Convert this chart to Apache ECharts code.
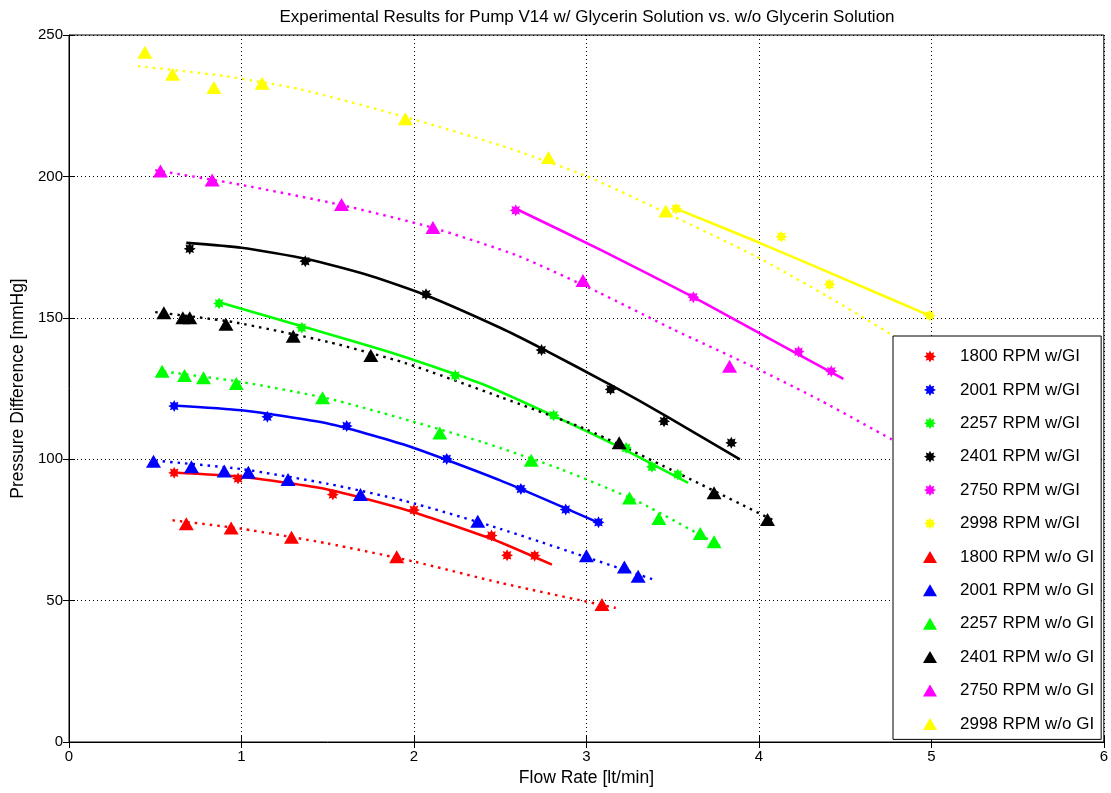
<!DOCTYPE html>
<html>
<head>
<meta charset="utf-8">
<title>Pump V14 pressure–flow curves</title>
<script src="https://cdn.jsdelivr.net/npm/echarts@6/dist/echarts.min.js"></script>
<style>
  html, body { margin: 0; padding: 0; background: #fff; }
  #chart { width: 1111px; height: 793px; }
</style>
</head>
<body>
<div id="chart"></div>
<script>
// Measured points: [flow rate (lt/min), pressure difference (mmHg)]
// "GI" = with glycerin solution, "WO" = without glycerin solution
const speeds = ['1800', '2001', '2257', '2401', '2750', '2998'];
const colors = ['#ff0000', '#0000ff', '#00ff00', '#000000', '#ff00ff', '#ffff00'];

const gi1800 = [[0.61, 95.2], [0.98, 93.2], [1.53, 87.5], [2.00, 82.0], [2.45, 73.0], [2.54, 66.0], [2.70, 65.9]];
const gi2001 = [[0.61, 118.8], [1.15, 115.0], [1.61, 111.7], [2.19, 100.1], [2.62, 89.5], [2.88, 82.2], [3.07, 77.7]];
const gi2257 = [[0.87, 155.1], [1.35, 146.5], [2.24, 129.6], [2.81, 115.5], [3.23, 104.0], [3.38, 97.3], [3.53, 94.6]];
const gi2401 = [[0.70, 174.4], [1.37, 170.0], [2.07, 158.3], [2.74, 138.6], [3.14, 124.7], [3.45, 113.4], [3.84, 105.8]];
const gi2750 = [[2.59, 188.0], [3.62, 157.3], [4.23, 138.0], [4.42, 131.1]];
const gi2998 = [[3.52, 188.6], [4.13, 178.7], [4.41, 161.8], [4.99, 150.8]];

const wo1800 = [[0.68, 77.2], [0.94, 75.7], [1.29, 72.4], [1.90, 65.5], [3.09, 48.6]];
const wo2001 = [[0.49, 99.3], [0.71, 97.3], [0.90, 95.8], [1.04, 95.4], [1.27, 92.8], [1.69, 87.5], [2.37, 78.1], [3.00, 65.9], [3.22, 61.9], [3.30, 58.6]];
const wo2257 = [[0.54, 131.1], [0.67, 129.6], [0.78, 128.8], [0.97, 126.8], [1.47, 121.7], [2.15, 109.3], [2.68, 99.6], [3.25, 86.3], [3.42, 79.0], [3.66, 73.7], [3.74, 70.8]];
const wo2401 = [[0.55, 151.8], [0.66, 150.0], [0.70, 150.0], [0.91, 147.7], [1.30, 143.5], [1.75, 136.7], [3.19, 105.8], [3.74, 88.1], [4.05, 78.7]];
const wo2750 = [[0.53, 201.9], [0.83, 198.7], [1.58, 190.1], [2.11, 181.9], [2.98, 163.2], [3.83, 132.9]];
const wo2998 = [[0.44, 243.9], [0.60, 236.1], [0.84, 231.4], [1.12, 232.9], [1.95, 220.4], [2.78, 206.7], [3.46, 187.8]];

// Fitted trend curves (solid: with glycerin, dotted: without)
const fitGI1800 = [[0.60, 95.3], [1.00, 93.8], [1.50, 89.3], [1.97, 81.8], [2.46, 71.6], [2.80, 62.7]];
const fitGI2001 = [[0.60, 119.0], [1.00, 117.3], [1.50, 112.6], [1.95, 105.0], [2.50, 92.5], [3.09, 77.0]];
const fitGI2257 = [[0.87, 155.5], [1.35, 147.0], [1.92, 136.7], [2.40, 126.5], [2.81, 115.3], [3.20, 104.0], [3.59, 91.6]];
const fitGI2401 = [[0.68, 176.5], [1.00, 174.8], [1.38, 170.8], [1.75, 164.8], [2.07, 158.0], [2.50, 146.5], [2.74, 139.2], [3.14, 126.3], [3.45, 115.7], [3.89, 99.9]];
const fitGI2750 = [[2.60, 188.3], [3.10, 173.5], [3.62, 157.3], [4.05, 143.0], [4.49, 128.4]];
const fitGI2998 = [[3.52, 188.6], [4.00, 176.6], [4.50, 163.6], [5.00, 150.5]];

const fitWO1800 = [[0.60, 78.4], [1.00, 75.4], [1.50, 70.2], [2.00, 63.8], [2.50, 56.3], [3.17, 47.4]];
const fitWO2001 = [[0.50, 99.5], [1.00, 96.5], [1.50, 91.3], [1.95, 85.2], [2.50, 75.4], [3.39, 57.4]];
const fitWO2257 = [[0.55, 131.0], [1.00, 127.3], [1.50, 121.5], [1.92, 114.6], [2.40, 106.0], [2.85, 96.5], [3.30, 85.0], [3.77, 69.5]];
const fitWO2401 = [[0.50, 152.0], [0.95, 148.5], [1.50, 141.5], [1.95, 134.0], [2.50, 122.0], [3.00, 110.5], [3.50, 96.0], [4.08, 78.5]];
const fitWO2750 = [[0.50, 202.2], [1.00, 197.0], [1.57, 190.0], [2.10, 182.0], [2.60, 172.0], [3.07, 159.0], [3.50, 146.0], [3.98, 132.3], [4.35, 121.0], [4.77, 107.0], [4.90, 102.5]];
const fitWO2998 = [[0.40, 239.0], [0.90, 235.5], [1.34, 230.8], [1.95, 221.0], [2.50, 211.0], [3.00, 200.1], [3.50, 186.0], [3.98, 171.8], [4.40, 157.5], [4.77, 144.0], [4.95, 137.0]];

const giPoints = [gi1800, gi2001, gi2257, gi2401, gi2750, gi2998];
const woPoints = [wo1800, wo2001, wo2257, wo2401, wo2750, wo2998];
const giFits = [fitGI1800, fitGI2001, fitGI2257, fitGI2401, fitGI2750, fitGI2998];
const woFits = [fitWO1800, fitWO2001, fitWO2257, fitWO2401, fitWO2750, fitWO2998];

const xMin = 0, xMax = 6, xStep = 1;
const yMin = 0, yMax = 250, yStep = 50;

// chunky eight-pointed star for the "with glycerin" markers
const starPath = 'path://M20 10 L15.54 12.30 L17.07 17.07 L12.30 15.54 L10 20 L7.70 15.54 L2.93 17.07 L4.46 12.30 L0 10 L4.46 7.70 L2.93 2.93 L7.70 4.46 L10 0 L12.30 4.46 L17.07 2.93 L15.54 7.70 Z';

const FONT = 'Liberation Sans, Arial, sans-serif';

const series = [];
const legendData = [];

speeds.forEach((s, i) => {
  series.push({
    name: 'fit ' + s + ' GI',
    type: 'line',
    data: giFits[i],
    smooth: 0.2,
    showSymbol: false,
    symbol: 'none',
    silent: true,
    lineStyle: { color: colors[i], width: 2.6, type: 'solid' },
    z: 3
  });
  series.push({
    name: 'fit ' + s + ' WO',
    type: 'line',
    data: woFits[i],
    smooth: 0.2,
    showSymbol: false,
    symbol: 'none',
    silent: true,
    lineStyle: { color: colors[i], width: 2.4, type: [2.5, 5] },
    z: 3
  });
});

speeds.forEach((s, i) => {
  const name = s + ' RPM w/GI';
  legendData.push({ name: name, icon: starPath, itemStyle: { color: colors[i] } });
  series.push({
    name: name,
    type: 'scatter',
    data: giPoints[i],
    symbol: starPath,
    symbolSize: 12,
    itemStyle: { color: colors[i], opacity: 1 },
    z: 4
  });
});

speeds.forEach((s, i) => {
  const name = s + ' RPM w/o GI';
  legendData.push({ name: name, icon: 'triangle', itemStyle: { color: colors[i] } });
  series.push({
    name: name,
    type: 'scatter',
    data: woPoints[i],
    symbol: 'triangle',
    symbolSize: [15, 13],
    itemStyle: { color: colors[i], opacity: 1 },
    z: 4
  });
});

const tickStyle = { show: true, inside: true, length: 6, lineStyle: { color: '#000', width: 1 } };

const option = {
  backgroundColor: '#ffffff',
  animation: false,
  title: {
    text: 'Experimental Results for Pump V14 w/ Glycerin Solution vs. w/o Glycerin Solution',
    left: 587,
    top: 9,
    padding: 0,
    textAlign: 'center',
    textStyle: { fontFamily: FONT, fontSize: 17, fontWeight: 'normal', color: '#000' }
  },
  grid: {
    left: 69, right: 6, top: 35, bottom: 51,
    show: true, borderColor: '#000', borderWidth: 1, backgroundColor: '#fff',
    containLabel: false
  },
  legend: {
    orient: 'vertical',
    left: 893,
    top: 336,
    padding: [12, 7, 7, 30],
    itemGap: 16.4,
    itemWidth: 14,
    itemHeight: 12,
    itemStyle: { borderWidth: 0 },
    backgroundColor: '#fff',
    borderColor: '#000',
    borderWidth: 1,
    data: legendData,
    textStyle: { fontFamily: FONT, fontSize: 17, color: '#000', padding: [0, 0, 0, 18] },
    selectedMode: false,
    z: 10
  },
  xAxis: [{
    type: 'value',
    min: xMin, max: xMax, interval: xStep,
    name: 'Flow Rate [lt/min]',
    nameLocation: 'middle',
    nameGap: 23,
    nameTextStyle: { fontFamily: FONT, fontSize: 17.5, color: '#000' },
    axisLine: { show: true, onZero: false, lineStyle: { color: '#000', width: 1 } },
    axisTick: tickStyle,
    axisLabel: { fontFamily: FONT, fontSize: 15, color: '#000', margin: 7 },
    splitLine: { show: true, lineStyle: { color: '#000', width: 1, type: [1, 3] } }
  }, {
    type: 'value',
    position: 'top',
    min: xMin, max: xMax, interval: xStep,
    axisLine: { show: false },
    axisTick: tickStyle,
    axisLabel: { show: false },
    splitLine: { show: false }
  }],
  yAxis: [{
    type: 'value',
    min: yMin, max: yMax, interval: yStep,
    name: 'Pressure Difference [mmHg]',
    nameLocation: 'middle',
    nameGap: 34,
    nameTextStyle: { fontFamily: FONT, fontSize: 17.5, color: '#000' },
    axisLine: { show: true, onZero: false, lineStyle: { color: '#000', width: 1 } },
    axisTick: tickStyle,
    axisLabel: { fontFamily: FONT, fontSize: 15, color: '#000', margin: 6 },
    splitLine: { show: true, lineStyle: { color: '#000', width: 1, type: [1, 3] } }
  }, {
    type: 'value',
    position: 'right',
    min: yMin, max: yMax, interval: yStep,
    axisLine: { show: false },
    axisTick: tickStyle,
    axisLabel: { show: false },
    splitLine: { show: false }
  }],
  series: series
};

const chart = echarts.init(document.getElementById('chart'), null, { renderer: 'canvas' });
chart.setOption(option);
</script>
</body>
</html>
